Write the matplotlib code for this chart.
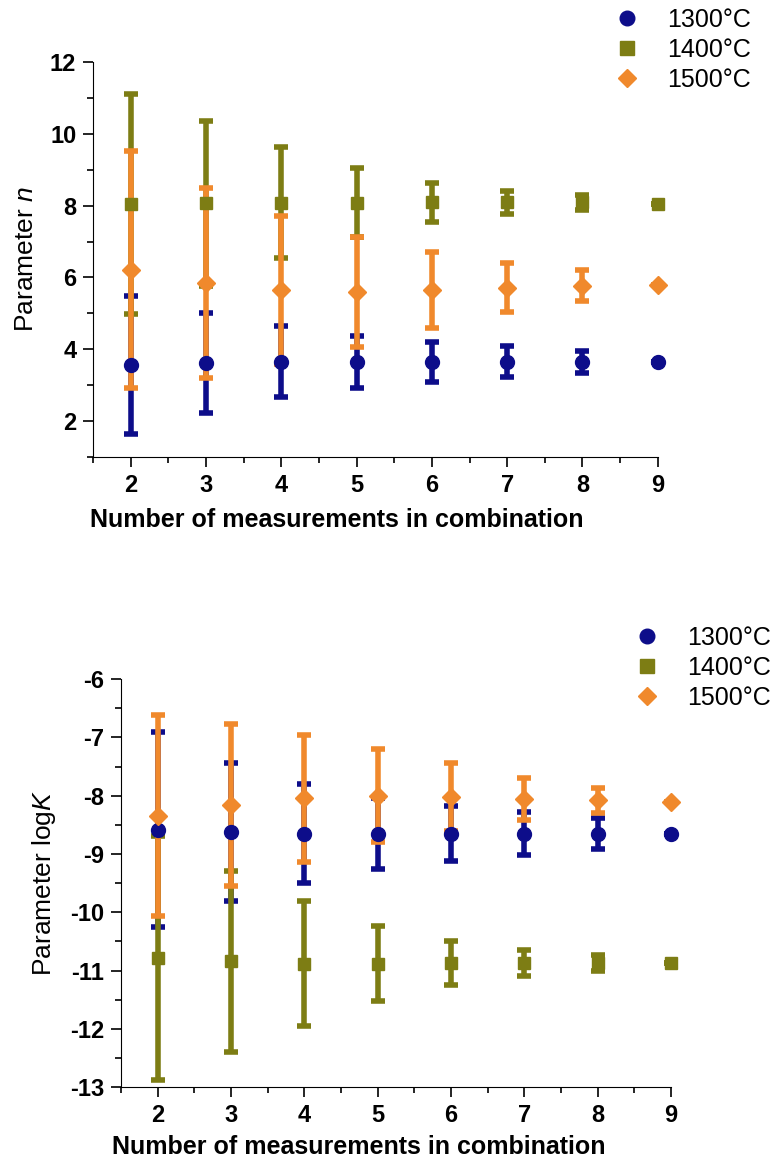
import matplotlib
matplotlib.use("Agg")
import matplotlib.pyplot as plt
from matplotlib.lines import Line2D
from matplotlib.ticker import MultipleLocator

plt.rcParams['font.family'] = ['Liberation Sans', 'DejaVu Sans']
plt.rcParams['mathtext.fontset'] = 'custom'
plt.rcParams['mathtext.rm'] = 'Liberation Sans'
plt.rcParams['mathtext.it'] = 'Liberation Sans:italic'
plt.rcParams['axes.unicode_minus'] = False

# number of measurements in a combination
n_meas = [2, 3, 4, 5, 6, 7, 8, 9]
labels = ['1300°C', '1400°C', '1500°C']

# parameter n: mean and error (upper/lower)
n_1300 = [3.56, 3.61, 3.65, 3.65, 3.65, 3.65, 3.65, 3.65]
n_1300_err = [1.93, 1.39, 0.99, 0.72, 0.56, 0.43, 0.31, 0.0]
n_1400 = [8.04, 8.06, 8.08, 8.08, 8.09, 8.09, 8.09, 8.05]
n_1400_err = [3.06, 2.30, 1.55, 0.96, 0.55, 0.33, 0.20, 0.0]
n_1500 = [6.22, 5.85, 5.65, 5.59, 5.65, 5.72, 5.77, 5.79]
n_1500_err = [3.30, 2.65, 2.07, 1.53, 1.07, 0.68, 0.43, 0.0]

# parameter logK: mean and error
k_1300 = [-8.58, -8.62, -8.65, -8.65, -8.65, -8.65, -8.65, -8.66]
k_1300_err = [1.67, 1.19, 0.85, 0.61, 0.47, 0.37, 0.26, 0.0]
k_1400 = [-10.78, -10.84, -10.88, -10.88, -10.87, -10.87, -10.87, -10.87]
k_1400_err = [2.09, 1.55, 1.07, 0.64, 0.38, 0.22, 0.13, 0.0]
k_1500 = [-8.34, -8.16, -8.04, -8.00, -8.02, -8.05, -8.08, -8.10]
k_1500_err = [1.73, 1.39, 1.09, 0.80, 0.58, 0.36, 0.22, 0.0]

colors = ['#0d0d8a', '#7d7d14', '#f0892c']
markers = ['o', 's', 'D']
msizes = [10, 9, 9]

fig = plt.figure(figsize=(7.78, 11.69), dpi=100)
ax1 = fig.add_axes([0.1195, 0.609, 0.726, 0.338])
ax2 = fig.add_axes([0.1555, 0.070, 0.707, 0.349])


def draw(ax, series, errs):
    for y, e, c, m, ms in zip(series, errs, colors, markers, msizes):
        bars = ax.errorbar(n_meas, y, yerr=e, fmt=m, color=c, ecolor=c, ms=ms,
                           elinewidth=4, capsize=5, capthick=4, mec=c, mfc=c)
        bars[0].set_clip_on(False)


def style(ax, ylim, ylabel, ylabel_x, xlabel_y):
    ax.set_xlim(1.5, 9)
    ax.set_ylim(*ylim)
    ax.spines['top'].set_visible(False)
    ax.spines['right'].set_visible(False)
    ax.xaxis.set_major_locator(MultipleLocator(1))
    ax.xaxis.set_minor_locator(MultipleLocator(0.5))
    ax.tick_params(which='major', direction='out', length=7, width=1.2, pad=5)
    ax.tick_params(which='minor', direction='out', length=4, width=1.2)
    for lbl in ax.get_xticklabels() + ax.get_yticklabels():
        lbl.set_fontweight('bold')
        lbl.set_fontsize(17)
    ax.set_xlabel('Number of measurements in combination', fontsize=18,
                  fontweight='bold')
    ax.xaxis.set_label_coords(0.432, xlabel_y)
    ax.set_ylabel(ylabel, fontsize=19)
    ax.yaxis.set_label_coords(ylabel_x, 0.5)


draw(ax1, [n_1300, n_1400, n_1500], [n_1300_err, n_1400_err, n_1500_err])
ax1.yaxis.set_major_locator(MultipleLocator(2))
ax1.yaxis.set_minor_locator(MultipleLocator(1))
ax1.set_xticks(n_meas)
style(ax1, (1, 12), r'Parameter $\mathit{n}$', -0.097, -0.128)

draw(ax2, [k_1300, k_1400, k_1500], [k_1300_err, k_1400_err, k_1500_err])
ax2.yaxis.set_major_locator(MultipleLocator(1))
ax2.yaxis.set_minor_locator(MultipleLocator(0.5))
ax2.set_xticks(n_meas)
style(ax2, (-13, -6), r'Parameter log$\mathit{K}$', -0.115, -0.117)

handles = [Line2D([], [], ls='none', marker=m, color=c, ms=ms * 1.05)
           for c, m, ms in zip(colors, markers, msizes)]
leg_kw = dict(loc='upper left', frameon=False, fontsize=18, labelspacing=0.24,
              handletextpad=0.6, borderpad=0, borderaxespad=0, handlelength=2)
fig.legend(handles, labels, bbox_to_anchor=(0.774, 0.993), **leg_kw)
fig.legend(handles, labels, bbox_to_anchor=(0.7995, 0.4645), **leg_kw)

fig.savefig('out.png', dpi=100)
